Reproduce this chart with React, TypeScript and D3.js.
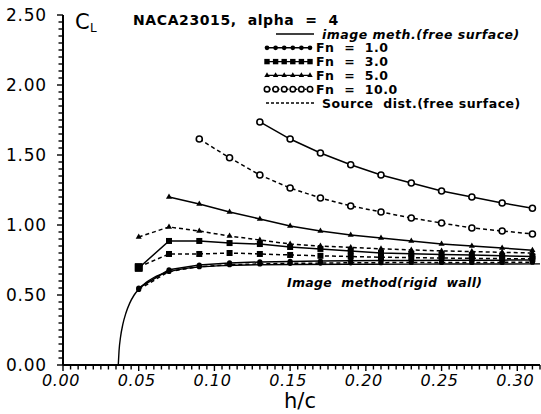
import React from "react";
import * as d3 from "d3";

// h/c stations for the computed points
const hc = [0.05, 0.07, 0.09, 0.11, 0.13, 0.15, 0.17, 0.19, 0.21, 0.23, 0.25, 0.27, 0.29, 0.31];

// Image method (free surface), solid lines
const imgFn1 = [0.55, 0.68, 0.714, 0.729, 0.736, 0.74, 0.743, 0.745, 0.746, 0.747, 0.748, 0.748, 0.749, 0.75];
const imgFn3 = [0.693, 0.886, 0.886, 0.871, 0.864, 0.843, 0.829, 0.814, 0.8, 0.795, 0.79, 0.785, 0.78, 0.775];
const imgFn5 = [null, 1.2, 1.15, 1.093, 1.043, 0.993, 0.957, 0.929, 0.907, 0.886, 0.864, 0.85, 0.836, 0.82];
const imgFn10 = [null, null, null, null, 1.736, 1.614, 1.514, 1.43, 1.357, 1.3, 1.243, 1.2, 1.157, 1.12];

// Source distribution (free surface), dashed lines
const srcFn1 = [0.54, 0.668, 0.702, 0.716, 0.722, 0.726, 0.728, 0.73, 0.731, 0.732, 0.732, 0.733, 0.733, 0.734];
const srcFn3 = [0.7, 0.793, 0.793, 0.8, 0.793, 0.786, 0.78, 0.775, 0.77, 0.767, 0.764, 0.762, 0.76, 0.758];
const srcFn5 = [0.914, 0.986, 0.957, 0.921, 0.893, 0.864, 0.85, 0.84, 0.83, 0.822, 0.815, 0.81, 0.805, 0.8];
const srcFn10 = [null, null, 1.614, 1.48, 1.357, 1.264, 1.193, 1.136, 1.093, 1.05, 1.014, 0.979, 0.957, 0.936];

// Image method (rigid wall)
const rigidX = [0.0365, 0.037, 0.038, 0.0395, 0.0415, 0.044, 0.047, 0.05, 0.055, 0.06, 0.07, 0.08, 0.09, 0.11, 0.13, 0.15, 0.2, 0.25, 0.315];
const rigidY = [0.0, 0.1, 0.2, 0.29, 0.37, 0.44, 0.5, 0.54, 0.59, 0.625, 0.665, 0.688, 0.7, 0.711, 0.716, 0.718, 0.72, 0.721, 0.722];

const xMajor = [0, 0.05, 0.1, 0.15, 0.2, 0.25, 0.3];
const yMajor = [0, 0.5, 1.0, 1.5, 2.0, 2.5];

const legendRows = [
  { label: "image meth.(free surface)", mark: "none", dash: "", italic: true },
  { label: "Fn  =  1.0", mark: "dot", dash: "", italic: false },
  { label: "Fn  =  3.0", mark: "square", dash: "", italic: false },
  { label: "Fn  =  5.0", mark: "triangle", dash: "", italic: false },
  { label: "Fn  =  10.0", mark: "circle", dash: "1.5,1.5", italic: false },
  { label: "Source  dist.(free surface)", mark: "none", dash: "3,2", italic: false },
];

const x = d3.scaleLinear().domain([0, 0.315]).range([63, 540]);
const y = d3.scaleLinear().domain([0, 2.5]).range([365, 15]);

const pts = (vals: (number | null)[]) =>
  hc.map((h, i) => [h, vals[i]]).filter((d) => d[1] != null) as [number, number][];

const Marker = ({ kind, cx, cy, s = 1 }: { kind: string; cx: number; cy: number; s?: number }) => {
  if (kind === "dot") return <circle cx={cx} cy={cy} r={2.6 * s} fill="#000" />;
  if (kind === "square")
    return <rect x={cx - 3 * s} y={cy - 3 * s} width={6 * s} height={6 * s} fill="#000" />;
  if (kind === "triangle")
    return <path d={d3.symbol(d3.symbolTriangle, 16 * s * s)()!} transform={`translate(${cx},${cy})`} fill="#000" />;
  if (kind === "circle")
    return <circle cx={cx} cy={cy} r={3 * s} fill="#fff" stroke="#000" strokeWidth={1.6} />;
  return null;
};

const series = [
  { vals: imgFn1, dash: "", mark: "dot" },
  { vals: srcFn1, dash: "4,3", mark: "dot" },
  { vals: imgFn3, dash: "", mark: "square" },
  { vals: srcFn3, dash: "4,3", mark: "square" },
  { vals: imgFn5, dash: "", mark: "triangle" },
  { vals: srcFn5, dash: "4,3", mark: "triangle" },
  { vals: imgFn10, dash: "", mark: "circle" },
  { vals: srcFn10, dash: "4,3", mark: "circle" },
];

const font = "'DejaVu Sans', sans-serif";

export default function App() {
  const xMinor = d3.range(0, 0.3151, 0.005);
  const yMinor = d3.range(0, 2.5001, 0.05);
  const rigid = rigidX.map((h, i) => [h, rigidY[i]] as [number, number]);
  const smooth = d3
    .line<[number, number]>()
    .x((d) => x(d[0]))
    .y((d) => y(d[1]))
    .curve(d3.curveMonotoneX);
  const straight = d3
    .line<[number, number]>()
    .x((d) => x(d[0]))
    .y((d) => y(d[1]));

  return (
    <svg
      width={541}
      height={414}
      style={{ position: "absolute", left: 0, top: 0, background: "#fff" }}
      fontFamily={font}
    >
      {/* axes */}
      <line x1={x(0)} x2={540} y1={y(0)} y2={y(0)} stroke="#000" strokeWidth={2} />
      <line x1={x(0)} x2={x(0)} y1={y(0)} y2={y(2.5)} stroke="#000" strokeWidth={2} />
      {xMinor.map((v, i) => (
        <line key={"xm" + i} x1={x(v)} x2={x(v)} y1={y(0)} y2={y(0) + (i % 10 === 0 ? 6 : 4.5)} stroke="#000" strokeWidth={1.4} />
      ))}
      {yMinor.map((v, i) => (
        <line key={"ym" + i} x1={x(0)} x2={x(0) - (i % 10 === 0 ? 6 : 4.5)} y1={y(v)} y2={y(v)} stroke="#000" strokeWidth={1.4} />
      ))}
      {xMajor.map((v) => (
        <text key={"xl" + v} x={x(v) - 2} y={386} fontSize={16} fontStyle="italic" textAnchor="middle" letterSpacing={0.6}>
          {d3.format(".2f")(v)}
        </text>
      ))}
      {yMajor.map((v) => (
        <text key={"yl" + v} x={47} y={y(v) + 6} fontSize={17} textAnchor="end" letterSpacing={0.8}>
          {d3.format(".2f")(v)}
        </text>
      ))}
      <text x={300} y={408} fontSize={21} textAnchor="middle">h/c</text>
      <text x={75} y={29} fontSize={21}>C</text>
      <text x={90} y={32} fontSize={12}>L</text>

      {/* rigid wall */}
      <path d={smooth(rigid)!} fill="none" stroke="#000" strokeWidth={1.4} />

      {/* curves */}
      {series.map((s, k) => {
        const p = pts(s.vals);
        return (
          <g key={"s" + k}>
            <path d={straight(p)!} fill="none" stroke="#000" strokeWidth={1.5} strokeDasharray={s.dash} />
            {p.map((d, i) => (
              <Marker key={i} kind={s.mark} cx={x(d[0])} cy={y(d[1])} s={s.mark === "square" && i === 0 ? 1.3 : 1} />
            ))}
          </g>
        );
      })}

      <text x={287} y={287} fontSize={12.5} fontWeight="bold" fontStyle="italic" letterSpacing={0.3} style={{ whiteSpace: "pre" }}>
        Image  method(rigid  wall)
      </text>

      {/* title & legend */}
      <text x={133} y={25} fontSize={14} fontWeight="bold" letterSpacing={0.6} style={{ whiteSpace: "pre" }}>
        NACA23015,  alpha  =  4
      </text>
      {legendRows.map((r, i) => {
        const ly = 34 + i * 13.8;
        const xs = d3.range(6).map((j) => 267 + j * 8.6);
        return (
          <g key={"lg" + i}>
            <line x1={i === 0 ? 276 : 266} x2={i === 0 || i === 5 ? 314 : 310} y1={ly} y2={ly} stroke="#000" strokeWidth={1.4} strokeDasharray={r.dash} />
            {r.mark !== "none" && xs.map((xx, j) => <Marker key={j} kind={r.mark} cx={xx} cy={ly} s={0.9} />)}
            <text x={i === 0 || i === 5 ? 322 : 316} y={ly + 4.5} fontSize={12.5} fontWeight="bold" letterSpacing={0.5} fontStyle={r.italic ? "italic" : "normal"} style={{ whiteSpace: "pre" }}>
              {r.label}
            </text>
          </g>
        );
      })}
    </svg>
  );
}
